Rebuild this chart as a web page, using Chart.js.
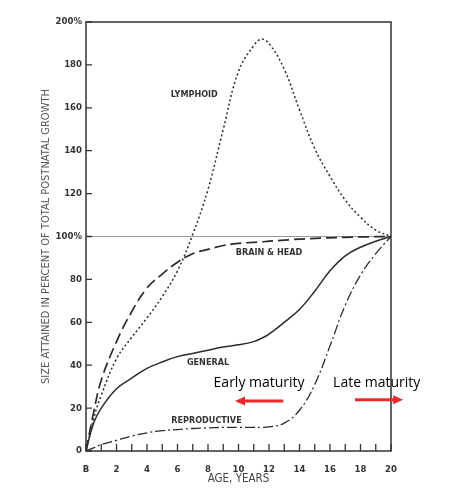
<!DOCTYPE html>
<html>
<head>
<meta charset="utf-8">
<script src="https://cdn.jsdelivr.net/npm/chart.js@4.4.1/dist/chart.umd.min.js"></script>
<style>
  html, body { margin: 0; padding: 0; background: #fff; }
  #wrap { width: 450px; height: 500px; }
</style>
</head>
<body>
<div id="wrap"><canvas id="growthChart"></canvas></div>
<script>
// ages in years (0 = birth) and size in % of total postnatal growth
const ages         = [0, 0.5, 1, 2, 3, 4, 5, 6, 7, 8, 9, 10, 11, 11.5, 12, 13, 14, 15, 16, 17, 18, 19, 20];
const lymphoid     = [0, 15, 26, 43, 53, 62, 72, 84, 101, 122, 150, 177, 189, 192, 190, 178, 159, 141, 128, 117, 109, 103, 100];
const brainHead    = [0, 18, 33, 51, 65, 76, 82.5, 88, 92, 94, 95.8, 96.8, 97.3, 97.5, 97.8, 98.3, 98.8, 99.1, 99.4, 99.6, 99.8, 99.9, 100];
const general      = [0, 13, 20, 29, 34, 38.5, 41.5, 44, 45.5, 47, 48.5, 49.5, 51, 52.5, 54.5, 60, 66, 74.5, 84, 91, 95, 97.8, 100];
const reproductive = [0, 1.5, 3, 5, 7, 8.5, 9.5, 10, 10.5, 10.8, 11, 11, 11, 11, 11.2, 13, 19, 31, 49, 68, 82, 92, 100];

const xTickLabels = ['B', '2', '4', '6', '8', '10', '12', '14', '16', '18', '20'];
const yTickLabels = ['0', '20', '40', '60', '80', '100%', '120', '140', '160', '180', '200%'];

const curveNames = ['LYMPHOID', 'BRAIN & HEAD', 'GENERAL', 'REPRODUCTIVE'];

document.addEventListener('DOMContentLoaded', function () {
    initializeGrowthChart();
});

function toPoints(values) {
    return values.map((v, i) => ({ x: ages[i], y: v }));
}

// where the curve names and the maturity notes sit (data coordinates)
const namePositions = [
    { x: 7.1, y: 166 },
    { x: 12.0, y: 92.3 },
    { x: 8.0, y: 41 },
    { x: 7.9, y: 14 }
];
const maturityNotes = [
    { text: 'Early maturity', x: 11.35, y: 31.6, from: 12.94, to: 9.77, arrowY: 23.3 },
    { text: 'Late maturity', x: 19.06, y: 31.7, from: 17.64, to: 20.8, arrowY: 23.9 }
];

const INK = '#2b2b2b';
const CONDENSED = '"DejaVu Sans Condensed", "DejaVu Sans", sans-serif';

const decorPlugin = {
    id: 'decor',
    afterDraw(chart) {
        const { ctx, chartArea: a, scales } = chart;
        const xs = scales.x, ys = scales.y;
        ctx.save();

        // plot frame
        ctx.strokeStyle = '#333';
        ctx.lineWidth = 1.5;
        ctx.strokeRect(a.left, a.top, a.right - a.left, a.bottom - a.top);

        // inward tick marks
        ctx.lineWidth = 1.3;
        ctx.beginPath();
        ys.ticks.forEach(t => {
            const py = ys.getPixelForValue(t.value);
            ctx.moveTo(a.left, py);
            ctx.lineTo(a.left + 6, py);
        });
        xs.ticks.forEach(t => {
            const px = xs.getPixelForValue(t.value);
            ctx.moveTo(px, a.bottom);
            ctx.lineTo(px, a.bottom - 7);
        });
        ctx.stroke();

        // curve names
        ctx.fillStyle = '#333';
        ctx.font = 'bold 9px ' + CONDENSED;
        ctx.textAlign = 'center';
        ctx.textBaseline = 'middle';
        curveNames.forEach((name, i) => {
            const p = namePositions[i];
            ctx.fillText(name, xs.getPixelForValue(p.x), ys.getPixelForValue(p.y));
        });

        // maturity notes with red arrows
        ctx.font = '14px "Open Sans", "Noto Sans", sans-serif';
        maturityNotes.forEach(n => {
            ctx.fillStyle = '#000';
            ctx.fillText(n.text, xs.getPixelForValue(n.x), ys.getPixelForValue(n.y));
            const x1 = xs.getPixelForValue(n.from);
            const x2 = xs.getPixelForValue(n.to);
            const py = ys.getPixelForValue(n.arrowY);
            const dir = Math.sign(x2 - x1);
            ctx.strokeStyle = '#ec2b2b';
            ctx.fillStyle = '#ec2b2b';
            ctx.lineWidth = 3;
            ctx.beginPath();
            ctx.moveTo(x1, py);
            ctx.lineTo(x2 - dir * 8, py);
            ctx.stroke();
            ctx.beginPath();
            ctx.moveTo(x2, py);
            ctx.lineTo(x2 - dir * 10, py - 4.5);
            ctx.lineTo(x2 - dir * 10, py + 4.5);
            ctx.closePath();
            ctx.fill();
        });

        ctx.restore();
    }
};

function initializeGrowthChart() {
    const ctx = document.getElementById('growthChart').getContext('2d');
    const common = {
        borderColor: INK,
        pointRadius: 0,
        fill: false,
        tension: 0.4
    };

    new Chart(ctx, {
        type: 'line',
        data: {
            datasets: [
                { ...common, label: curveNames[0], data: toPoints(lymphoid), borderWidth: 1.5, borderDash: [2, 2.5] },
                { ...common, label: curveNames[1], data: toPoints(brainHead), borderWidth: 1.7, borderDash: [11, 5] },
                { ...common, label: curveNames[2], data: toPoints(general), borderWidth: 1.5 },
                { ...common, label: curveNames[3], data: toPoints(reproductive), borderWidth: 1.3, borderDash: [10, 3, 2, 3] }
            ]
        },
        options: {
            responsive: true,
            maintainAspectRatio: false,
            animation: false,
            layout: { padding: { left: 0, right: 59, top: 22, bottom: 0 } },
            plugins: {
                legend: { display: false },
                tooltip: { enabled: false }
            },
            scales: {
                x: {
                    type: 'linear',
                    min: 0,
                    max: 20,
                    afterFit(scale) { scale.height = 49; },
                    border: { display: false },
                    grid: { display: false },
                    ticks: {
                        stepSize: 1,
                        autoSkip: false,
                        maxRotation: 0,
                        padding: 5,
                        color: '#333',
                        font: { family: CONDENSED, size: 9.5, weight: 'bold' },
                        callback: v => (v % 2 === 0 ? xTickLabels[v / 2] : '')
                    },
                    title: {
                        display: true,
                        text: 'AGE, YEARS',
                        color: '#444',
                        padding: { bottom: 14 },
                        font: { family: CONDENSED, size: 11.5 }
                    }
                },
                y: {
                    min: 0,
                    max: 200,
                    afterFit(scale) { scale.width = 86; },
                    border: { display: false },
                    grid: {
                        drawTicks: false,
                        lineWidth: 1,
                        color: c => (c.tick && c.tick.value === 100 ? '#9a9a9a' : 'rgba(0,0,0,0)')
                    },
                    ticks: {
                        stepSize: 20,
                        padding: 4,
                        color: '#333',
                        font: { family: CONDENSED, size: 9.5, weight: 'bold' },
                        callback: v => yTickLabels[v / 20]
                    },
                    title: {
                        display: true,
                        text: 'SIZE ATTAINED IN PERCENT OF TOTAL POSTNATAL GROWTH',
                        color: '#555',
                        padding: { top: 40 },
                        font: { family: CONDENSED, size: 11 }
                    }
                }
            }
        },
        plugins: [decorPlugin]
    });
}
</script>
</body>
</html>
